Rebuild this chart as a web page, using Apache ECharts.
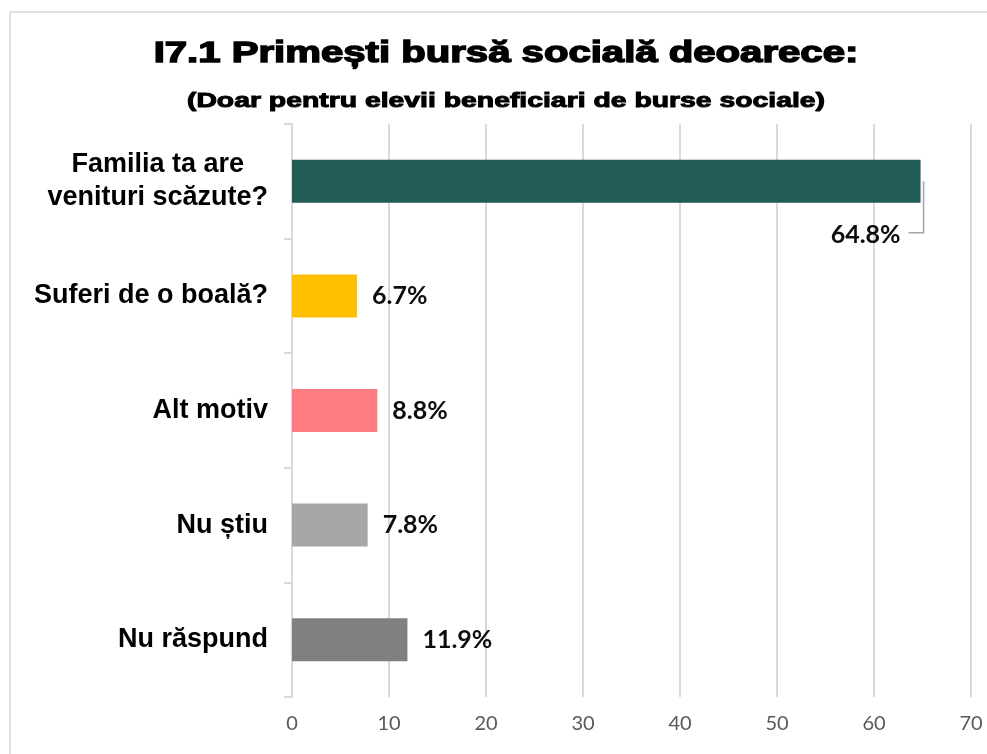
<!DOCTYPE html>
<html>
<head>
<meta charset="utf-8">
<script src="https://cdn.jsdelivr.net/npm/echarts@6/dist/echarts.min.js"></script>
<style>
html,body{margin:0;padding:0;background:#fff;}
#chart{width:987px;height:754px;}
</style>
</head>
<body>
<div id="chart"></div>
<script>
const titleText = 'I7.1 Primești bursă socială deoarece:';
const subtitleText = '(Doar pentru elevii beneficiari de burse sociale)';
const categories = ['Familia ta are\nvenituri scăzute?', 'Suferi de o boală?', 'Alt motiv', 'Nu știu', 'Nu răspund'];
const values = [64.8, 6.7, 8.8, 7.8, 11.9];
const barColors = ['#215B55', '#FFC000', '#FF7C80', '#A6A6A6', '#808080'];
const xTicks = {min: 0, max: 70, interval: 10};

const chart = echarts.init(document.getElementById('chart'), null, {renderer: 'canvas'});
const BAR_W = 43;
const option = {
  animation: false,
  backgroundColor: '#fff',
  graphic: [
    {type: 'rect', shape: {x: 10, y: 12, width: 1000, height: 800}, style: {fill: 'none', stroke: '#d9d9d9', lineWidth: 1.5}, silent: true},
    {type: 'text', x: 506, y: 54, scaleX: 1.36, style: {text: titleText, font: 'bold 29.5px "Liberation Sans"', fill: '#000', stroke: '#000', lineWidth: 1.4, textAlign: 'center', textVerticalAlign: 'middle', align: 'center', verticalAlign: 'middle'}},
    {type: 'text', x: 506, y: 101, scaleX: 1.35, style: {text: subtitleText, font: 'bold 21px "Liberation Sans"', fill: '#000', stroke: '#000', lineWidth: 1, textAlign: 'center', textVerticalAlign: 'middle', align: 'center', verticalAlign: 'middle'}}
  ],
  grid: {left: 292, right: 16, top: 124, bottom: 57, containLabel: false},
  xAxis: {
    type: 'value', min: xTicks.min, max: xTicks.max, interval: xTicks.interval,
    axisLine: {show: false}, axisTick: {show: false},
    splitLine: {show: true, lineStyle: {color: '#d9d9d9', width: 2}},
    axisLabel: {color: '#595959', fontFamily: 'Lato', fontSize: 20, margin: 17}
  },
  yAxis: {
    type: 'category', inverse: true, data: categories,
    axisLine: {show: true, lineStyle: {color: '#d9d9d9', width: 2}},
    axisTick: {show: true, length: 8, lineStyle: {color: '#d9d9d9', width: 2}},
    axisLabel: {
      margin: 24,
      formatter: function (v) { return v.split('\n').map(function (s) { return '{c|' + s + '}'; }).join('\n'); },
      rich: {c: {align: 'center', fontFamily: 'Liberation Sans', fontWeight: 'bold', fontSize: 27, color: '#000', lineHeight: 33}}
    }
  },
  series: [{
    type: 'bar',
    barWidth: BAR_W,
    data: values.map(function (v, i) {
      return {value: v, itemStyle: {color: barColors[i]}};
    }),
    label: {
      show: true, position: 'right', distance: 15,
      fontFamily: 'Lato', fontWeight: 'bold', fontSize: 25, color: '#0d0d0d',
      formatter: function (p) { return p.value.toFixed(1) + '%'; }
    },
    labelLayout: function (p) {
      if (p.dataIndex !== 0) return {};
      const r = p.rect;
      const end = r.x + r.width;
      return {x: end - 20, y: r.y + r.height + 32, align: 'right', verticalAlign: 'middle'};
    }
  }]
};
chart.setOption(option);

// leader line for the first (moved) label, positioned through the chart's own scales
const endPt = chart.convertToPixel({seriesIndex: 0}, [values[0], categories[0]]);
const lx = endPt[0] + 3;
const ly = endPt[1] + BAR_W / 2 + 30;
chart.setOption({
  graphic: option.graphic.concat([{
    type: 'polyline', silent: true,
    shape: {points: [[lx, endPt[1]], [lx, ly], [endPt[0] - 12, ly]]},
    style: {stroke: '#a6a6a6', lineWidth: 1.5, fill: 'none'}
  }])
});
</script>
</body>
</html>
